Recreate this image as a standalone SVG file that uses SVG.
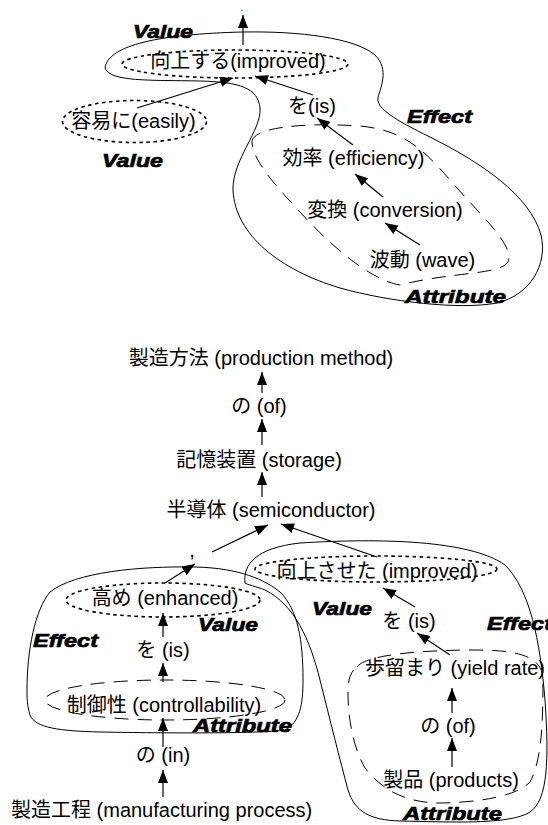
<svg xmlns="http://www.w3.org/2000/svg" width="548" height="825" viewBox="0 0 548 825">
<defs>
<marker id="ah" markerUnits="userSpaceOnUse" markerWidth="13" markerHeight="10" refX="13" refY="5" orient="auto">
<path d="M0,0 L13,5 L0,10 z" fill="#000"/>
</marker>
<style>
.t{font-family:"Liberation Sans","Noto Sans CJK JP",sans-serif;font-size:20px;fill:#000;text-anchor:middle}
.lb{font-family:"Liberation Sans","Noto Sans CJK JP",sans-serif;font-size:19px;font-weight:bold;font-style:italic;fill:#000;stroke:#000;stroke-width:0.7}
.c{stroke:#000;stroke-width:1.2;fill:none;marker-end:url(#ah)}
.dot{stroke:#000;stroke-width:1.6;fill:none;stroke-dasharray:3.5 3.5}
.dash{stroke:#000;stroke-width:1;fill:none;stroke-dasharray:14 9}
.sol{stroke:#000;stroke-width:1;fill:none}
</style>
</defs>
<rect width="548" height="825" fill="#fff"/>

<g id="regions">
<path class="sol" d="M105,68 C108,45 160,34 243,32 C300,31 355,38 375,55 C390,70 380,88 378,98 C376,108 395,120 430,137 C480,162 530,195 541,235 C548,265 530,295 497,303 C460,310 390,302 340,288 C280,270 235,235 233,190 C232,160 262,130 260,108 C258,88 240,82 200,81 C150,80 110,82 105,68 Z"/>
<path class="dash" d="M252,143 C250,128 300,122 360,126 C400,130 420,145 450,180 C480,215 515,245 508,262 C500,275 450,272 400,285 C370,280 330,245 300,212 C270,180 254,160 252,143 Z"/>
<path class="sol" d="M27,690 C27,650 35,610 50,592 C75,572 140,566 195,567 C240,568 265,580 280,592 C298,610 303,640 303,680 C303,705 300,722 285,730 C260,734 150,733 100,732 C60,731 35,728 30,715 C27,705 27,698 27,690 Z"/>
<path class="sol" d="M245,583 C243,565 255,548 300,543 C380,538 470,540 505,565 C530,590 540,640 545,700 C549,760 548,800 530,812 C510,825 450,822 400,821 C370,820 355,812 348,790 C340,760 330,720 320,680 C310,640 295,605 265,590 C255,586 248,585 245,583 Z"/>
<path class="dash" d="M357,667 C365,655 420,650 475,650 C515,650 543,655 543,680 C543,720 542,760 530,782 C515,798 470,803 437,803 C405,802 382,790 365,768 C352,745 348,715 348,693 C348,680 350,672 357,667 Z"/>
</g>

<g id="connectors">
<line class="c" x1="243" y1="45" x2="243" y2="15"/>
<line class="c" x1="137" y1="108" x2="233" y2="78"/>
<line class="c" x1="313" y1="95" x2="255" y2="76"/>
<line class="c" x1="353" y1="145" x2="317" y2="118"/>
<line class="c" x1="383" y1="197" x2="355" y2="174"/>
<line class="c" x1="420" y1="245" x2="385" y2="223"/>
<line class="c" x1="262" y1="393" x2="262" y2="372"/>
<line class="c" x1="262" y1="445" x2="262" y2="419"/>
<line class="c" x1="262" y1="497" x2="262" y2="472"/>
<line class="c" x1="212" y1="552" x2="268" y2="525"/>
<line class="c" x1="377" y1="557" x2="281" y2="524"/>
<line class="c" x1="165" y1="583" x2="195" y2="564"/>
<line class="c" x1="163" y1="637" x2="163" y2="613"/>
<line class="c" x1="163" y1="682" x2="163" y2="663"/>
<line class="c" x1="163" y1="747" x2="163" y2="718"/>
<line class="c" x1="163" y1="797" x2="163" y2="770"/>
<line class="c" x1="415" y1="607" x2="383" y2="588"/>
<line class="c" x1="450" y1="655" x2="417" y2="633"/>
<line class="c" x1="452" y1="713" x2="452" y2="688"/>
<line class="c" x1="452" y1="767" x2="452" y2="738"/>
</g>

<g id="n-root"><text class="t" x="242" y="11" style="font-size:10px">.</text></g>
<g id="n-improved1"><ellipse class="dot" cx="235" cy="64" rx="113" ry="14"/><text class="t" x="238" y="68">向上する(improved)</text></g>
<g id="n-easily"><ellipse class="dot" cx="134.5" cy="121.5" rx="72" ry="21"/><text class="t" x="133.5" y="128">容易に(easily)</text></g>
<g id="n-is1"><text class="t" x="312" y="113">を(is)</text></g>
<g id="n-efficiency"><text class="t" x="353.5" y="165">効率 (efficiency)</text></g>
<g id="n-conversion"><text class="t" x="385" y="217">変換 (conversion)</text></g>
<g id="n-wave"><text class="t" x="422.5" y="267">波動 (wave)</text></g>

<g id="n-method"><text class="t" x="261" y="365">製造方法 (production method)</text></g>
<g id="n-of1"><text class="t" x="259" y="413">の (of)</text></g>
<g id="n-storage"><text class="t" x="259" y="467">記憶装置 (storage)</text></g>
<g id="n-semi"><text class="t" x="271" y="517">半導体 (semiconductor)</text></g>
<g id="n-comma"><text class="t" x="192" y="557">,</text></g>
<g id="n-enhanced"><ellipse class="dot" cx="163" cy="600" rx="97" ry="17"/><text class="t" x="165" y="605">高め (enhanced)</text></g>
<g id="n-is2"><text class="t" x="163" y="657">を (is)</text></g>
<g id="n-control"><ellipse class="dash" cx="165" cy="700" rx="120" ry="20"/><text class="t" x="164" y="712">制御性 (controllability)</text></g>
<g id="n-in"><text class="t" x="163" y="762">の (in)</text></g>
<g id="n-process"><text class="t" x="11" y="817" style="text-anchor:start">製造工程 (manufacturing process)</text></g>
<g id="n-improved2"><ellipse class="dot" cx="376" cy="569" rx="121" ry="13"/><text class="t" x="377" y="578">向上させた (improved)</text></g>
<g id="n-is3"><text class="t" x="409" y="628">を (is)</text></g>
<g id="n-yield"><text class="t" x="455" y="675">歩留まり (yield rate)</text></g>
<g id="n-of2"><text class="t" x="448" y="733">の (of)</text></g>
<g id="n-products"><text class="t" x="451" y="787">製品 (products)</text></g>

<g id="labels">
<text class="lb" x="133" y="38" textLength="60" lengthAdjust="spacingAndGlyphs">Value</text>
<text class="lb" x="102" y="167" textLength="61" lengthAdjust="spacingAndGlyphs">Value</text>
<text class="lb" x="407" y="123" textLength="65" lengthAdjust="spacingAndGlyphs">Effect</text>
<text class="lb" x="405" y="303" textLength="101" lengthAdjust="spacingAndGlyphs">Attribute</text>
<text class="lb" x="198" y="631" textLength="60" lengthAdjust="spacingAndGlyphs">Value</text>
<text class="lb" x="33" y="647" textLength="65" lengthAdjust="spacingAndGlyphs">Effect</text>
<text class="lb" x="193" y="732" textLength="99" lengthAdjust="spacingAndGlyphs">Attribute</text>
<text class="lb" x="312" y="615" textLength="60" lengthAdjust="spacingAndGlyphs">Value</text>
<text class="lb" x="487" y="630" textLength="65" lengthAdjust="spacingAndGlyphs">Effect</text>
<text class="lb" x="403" y="820" textLength="99" lengthAdjust="spacingAndGlyphs">Attribute</text>
</g>
</svg>
